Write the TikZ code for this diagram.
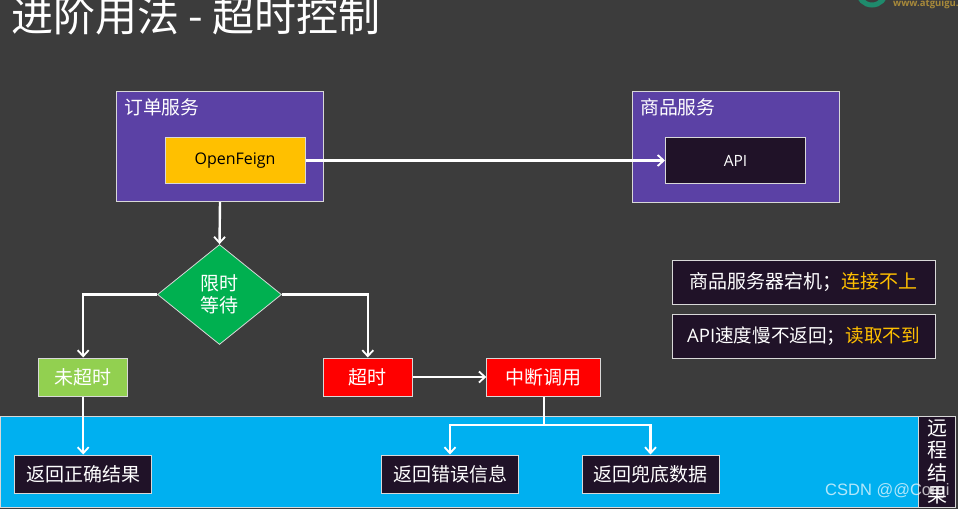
\documentclass[tikz,border=0pt]{standalone}
\usepackage{fontspec}
\setmainfont{Noto Sans CJK SC}
\newfontfamily\latinf{Open Sans}
\newfontfamily\markf{Liberation Sans}
\usetikzlibrary{arrows.meta,shapes.geometric}
\definecolor{bgc}{HTML}{3C3C3C}
\definecolor{purp}{HTML}{5B41A5}
\definecolor{darkb}{HTML}{201228}
\definecolor{gold}{HTML}{FFC000}
\definecolor{grn}{HTML}{00B050}
\definecolor{lime}{HTML}{92D050}
\definecolor{cyanb}{HTML}{00B0F0}
\definecolor{edge}{HTML}{D8D8D8}
\definecolor{logog}{HTML}{1F8A6C}
\definecolor{logot}{HTML}{A88A3A}
\tikzset{
  x=1pt,y=-1pt,
  boxn/.style={draw=edge,line width=1pt,minimum height=#1,inner sep=0pt,text=white,font=\fontsize{19}{21}\selectfont},
  boxn/.default=38pt,
  conn/.style={draw=white,line width=2.4pt,-{Straight Barb[length=6pt,width=11pt,line width=1.8pt]}},
  plain/.style={draw=white,line width=2.4pt},
  lbl/.style={text=white,font=\fontsize{18.8}{21}\selectfont,inner sep=0pt},
}
\begin{document}
\begin{tikzpicture}
\useasboundingbox (0,0) rectangle (958,509);
\fill[bgc] (0,0) rectangle (958,509);
\begin{scope}
\clip (0,0) rectangle (958,509);
\node[text=white,font=\fontsize{42}{44}\selectfont,anchor=west,inner sep=0pt] (title) at (11,16) {进阶用法 - 超时控制};
\draw[draw=logog,line width=5pt] (872,-9) circle[radius=14];
\node[text=logot,font=\latinf\bfseries\fontsize{9.5}{10}\selectfont,anchor=west,inner sep=0pt] (logo) at (893,4) {www.atguigu.com};
\end{scope}
% band
\node[draw=edge,fill=cyanb,line width=1pt,minimum width=918pt,minimum height=91pt,anchor=north west,inner sep=0pt] (band) at (0,416) {};
\node[draw=edge,fill=darkb,line width=1pt,minimum width=37pt,minimum height=91pt,anchor=north west,inner sep=0pt,text=white,font=\fontsize{20}{22.5}\selectfont,align=center] (remote) at (918,416) {远\\程\\结\\果};
% services
\node[boxn,fill=purp,minimum width=207pt,minimum height=110pt,anchor=north west] (order) at (116,91) {};
\node[lbl,anchor=west] (orderl) at (124,107) {订单服务};
\node[boxn,fill=gold,minimum width=140pt,minimum height=46pt,anchor=north west,text=black,font=\latinf\fontsize{16}{18}\selectfont] (feign) at (164.5,137) {\raisebox{-1.5pt}{OpenFeign}};
\node[boxn,fill=purp,minimum width=207pt,minimum height=111pt,anchor=north west] (goods) at (631.5,91) {};
\node[lbl,anchor=west] (goodsl) at (640,107) {商品服务};
\node[boxn,fill=darkb,minimum width=140pt,minimum height=46pt,anchor=north west,font=\latinf\fontsize{15.5}{18}\selectfont] (api) at (665,137) {API};
% diamond
\node[draw=edge,fill=grn,line width=.8pt,diamond,aspect=1.24,minimum width=124pt,minimum height=100pt,inner sep=0pt,text=white,align=center,font=\fontsize{19}{22}\selectfont] (wait) at (219.5,294.5) {限时\\等待};
% status
\node[boxn,fill=lime,minimum width=89pt,anchor=center] (ok) at (83.2,377) {未超时};
\node[boxn,fill=red,minimum width=89pt,anchor=center] (to) at (367.8,377) {超时};
\node[boxn,fill=red,minimum width=114pt,anchor=center] (brk) at (543.8,377) {中断调用};
% results
\node[boxn,fill=darkb,minimum width=137pt,anchor=center] (r1) at (83.2,474) {返回正确结果};
\node[boxn,fill=darkb,minimum width=137pt,anchor=center] (r2) at (450,474) {返回错误信息};
\node[boxn,fill=darkb,minimum width=137pt,anchor=center] (r3) at (650.5,474) {返回兜底数据};
% notes
\node[boxn,fill=darkb,minimum width=263pt,minimum height=44pt,anchor=center] (n1) at (803.5,282) {商品服务器宕机；\textcolor{gold}{连接不上}};
\node[boxn,fill=darkb,minimum width=263pt,minimum height=44pt,anchor=center,font=\fontsize{18.6}{21}\selectfont] (n2) at (803.5,336) {{\latinf API}速度慢不返回；\textcolor{gold}{读取不到}};
% connectors
\draw[conn] (feign.east) -- (api.west);
\draw[conn] (order.south) -- (wait.north);
\draw[conn] (wait.west) -| (ok.north);
\draw[conn] (wait.east) -| (to.north);
\draw[conn] (to.east) -- (brk.west);
\draw[conn] (ok.south) -- (r1.north);
\coordinate (split) at (543.8,425);
\draw[plain] (brk.south) -- (split);
\draw[conn] (split) -| (r2.north);
\draw[conn] (split) -| (r3.north);
\node[text=white,opacity=.7,font=\markf\fontsize{16.5}{18}\selectfont,anchor=west,inner sep=0pt] (mark) at (825,491) {CSDN @@Corgi};
\end{tikzpicture}
\end{document}
